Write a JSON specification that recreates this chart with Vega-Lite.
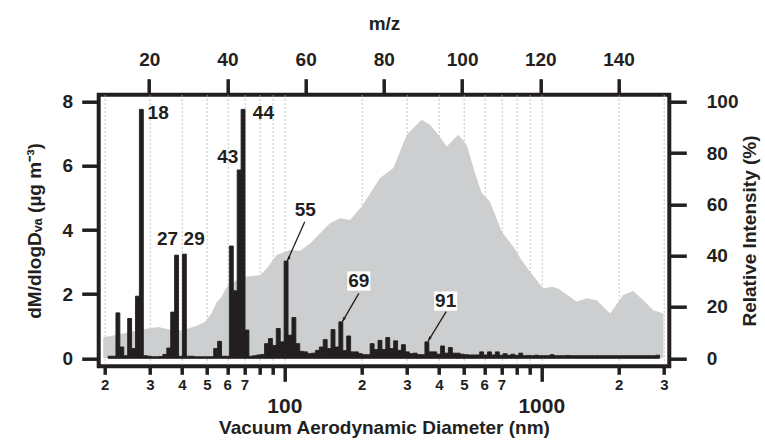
{
  "$schema": "https://vega.github.io/schema/vega-lite/v6.json",
  "width": 570.6,
  "height": 271.6,
  "autosize": {"type": "none"},
  "padding": {"left": 98.7, "top": 94.7, "right": 95.7, "bottom": 79.7},
  "background": "white",
  "config": {
    "view": {"stroke": "#231f20", "strokeWidth": 4},
    "font": "Liberation Sans",
    "axis": {
      "domain": false, "grid": false,
      "tickColor": "#231f20", "tickWidth": 3.5,
      "labelColor": "#231f20", "titleColor": "#231f20",
      "labelFont": "Liberation Sans", "labelFontWeight": "bold", "labelFontSize": 19,
      "titleFont": "Liberation Sans", "titleFontWeight": "bold", "titleFontSize": 19,
      "labelOverlap": false, "labelFlush": false
    }
  },
  "datasets": {
    "size": [
      {"D": 19.75, "dM": 0.65}, {"D": 22.5, "dM": 0.74}, {"D": 26, "dM": 0.84}, {"D": 29.5, "dM": 0.93},
      {"D": 32.3, "dM": 0.98}, {"D": 36.9, "dM": 0.875}, {"D": 40.4, "dM": 0.875}, {"D": 46.1, "dM": 1.03},
      {"D": 49.1, "dM": 1.13}, {"D": 52.0, "dM": 1.40}, {"D": 54.6, "dM": 1.75}, {"D": 56.9, "dM": 1.9},
      {"D": 59.7, "dM": 2.23}, {"D": 65.3, "dM": 2.44}, {"D": 69.9, "dM": 2.54}, {"D": 80.4, "dM": 2.59},
      {"D": 85.4, "dM": 2.80}, {"D": 93.4, "dM": 3.22}, {"D": 105.2, "dM": 3.375}, {"D": 115.1, "dM": 3.35},
      {"D": 125.9, "dM": 3.58}, {"D": 141.8, "dM": 4.0}, {"D": 150.6, "dM": 4.21}, {"D": 164.7, "dM": 4.37},
      {"D": 180.1, "dM": 4.31}, {"D": 200.1, "dM": 4.73}, {"D": 235.8, "dM": 5.62}, {"D": 265.6, "dM": 5.93},
      {"D": 299.5, "dM": 6.97}, {"D": 342.4, "dM": 7.44}, {"D": 368.9, "dM": 7.28}, {"D": 397.4, "dM": 6.97},
      {"D": 428.5, "dM": 6.60}, {"D": 475.4, "dM": 6.97}, {"D": 512.6, "dM": 6.66}, {"D": 552.1, "dM": 5.77},
      {"D": 586.3, "dM": 5.15}, {"D": 631.6, "dM": 4.88}, {"D": 701.3, "dM": 3.95}, {"D": 778.1, "dM": 3.48},
      {"D": 838.9, "dM": 3.06}, {"D": 903.6, "dM": 2.70}, {"D": 1018, "dM": 2.18}, {"D": 1098, "dM": 2.23},
      {"D": 1165, "dM": 2.18}, {"D": 1373, "dM": 1.76}, {"D": 1502, "dM": 1.87}, {"D": 1643, "dM": 1.81},
      {"D": 1851, "dM": 1.40}, {"D": 2085, "dM": 1.97}, {"D": 2280, "dM": 2.10}, {"D": 2494, "dM": 1.81},
      {"D": 2728, "dM": 1.50}, {"D": 2984, "dM": 1.40}
    ],
    "spectrum": [
      {"mz": 10, "pct": 0.8}, {"mz": 11, "pct": 0.8}, {"mz": 12, "pct": 17.7}, {"mz": 13, "pct": 4.4},
      {"mz": 14, "pct": 1.0}, {"mz": 15, "pct": 15.5}, {"mz": 16, "pct": 3.8}, {"mz": 17, "pct": 24.2},
      {"mz": 18, "pct": 97}, {"mz": 19, "pct": 1.0}, {"mz": 20, "pct": 0.8}, {"mz": 21, "pct": 0.6},
      {"mz": 22, "pct": 0.6}, {"mz": 23, "pct": 0.7}, {"mz": 24, "pct": 1.5}, {"mz": 25, "pct": 4.0},
      {"mz": 26, "pct": 18}, {"mz": 27, "pct": 40.2}, {"mz": 28, "pct": 0.8}, {"mz": 29, "pct": 40.6},
      {"mz": 30, "pct": 0.8}, {"mz": 31, "pct": 0.8}, {"mz": 32, "pct": 0.6}, {"mz": 33, "pct": 0.6},
      {"mz": 34, "pct": 0.6}, {"mz": 35, "pct": 0.6}, {"mz": 36, "pct": 0.6}, {"mz": 37, "pct": 3.8},
      {"mz": 38, "pct": 6.6}, {"mz": 39, "pct": 0.8}, {"mz": 40, "pct": 0.8}, {"mz": 41, "pct": 43.75},
      {"mz": 42, "pct": 26.3}, {"mz": 43, "pct": 73.4}, {"mz": 44, "pct": 97}, {"mz": 45, "pct": 11},
      {"mz": 46, "pct": 0.8}, {"mz": 47, "pct": 1.0}, {"mz": 48, "pct": 1.3}, {"mz": 49, "pct": 1.5},
      {"mz": 50, "pct": 5.7}, {"mz": 51, "pct": 7.7}, {"mz": 52, "pct": 5.0}, {"mz": 53, "pct": 11.6},
      {"mz": 54, "pct": 6.4}, {"mz": 55, "pct": 37.9}, {"mz": 56, "pct": 9.0}, {"mz": 57, "pct": 15.9},
      {"mz": 58, "pct": 5.7}, {"mz": 59, "pct": 2.7}, {"mz": 60, "pct": 2.5}, {"mz": 61, "pct": 1.8},
      {"mz": 62, "pct": 2.0}, {"mz": 63, "pct": 3.1}, {"mz": 64, "pct": 4.4}, {"mz": 65, "pct": 7.3},
      {"mz": 66, "pct": 3.8}, {"mz": 67, "pct": 11.2}, {"mz": 68, "pct": 4.4}, {"mz": 69, "pct": 14.2},
      {"mz": 70, "pct": 3.0}, {"mz": 71, "pct": 8.7}, {"mz": 72, "pct": 2.5}, {"mz": 73, "pct": 2.5},
      {"mz": 74, "pct": 1.8}, {"mz": 75, "pct": 1.4}, {"mz": 76, "pct": 1.4}, {"mz": 77, "pct": 5.7},
      {"mz": 78, "pct": 3.4}, {"mz": 79, "pct": 7.0}, {"mz": 80, "pct": 3.4}, {"mz": 81, "pct": 8.1},
      {"mz": 82, "pct": 3.8}, {"mz": 83, "pct": 6.8}, {"mz": 84, "pct": 3.1}, {"mz": 85, "pct": 5.3},
      {"mz": 86, "pct": 2.5}, {"mz": 87, "pct": 1.8}, {"mz": 88, "pct": 2.0}, {"mz": 89, "pct": 1.4},
      {"mz": 90, "pct": 1.4}, {"mz": 91, "pct": 6.4}, {"mz": 92, "pct": 2.5}, {"mz": 93, "pct": 2.5},
      {"mz": 94, "pct": 1.6}, {"mz": 95, "pct": 4.8}, {"mz": 96, "pct": 2.0}, {"mz": 97, "pct": 4.2},
      {"mz": 98, "pct": 2.0}, {"mz": 99, "pct": 2.0}, {"mz": 100, "pct": 1.6}, {"mz": 101, "pct": 1.4},
      {"mz": 102, "pct": 1.3}, {"mz": 103, "pct": 1.3}, {"mz": 104, "pct": 1.3}, {"mz": 105, "pct": 2.5},
      {"mz": 106, "pct": 1.3}, {"mz": 107, "pct": 2.5}, {"mz": 108, "pct": 1.3}, {"mz": 109, "pct": 2.5},
      {"mz": 110, "pct": 1.2}, {"mz": 111, "pct": 1.8}, {"mz": 112, "pct": 1.2}, {"mz": 113, "pct": 1.6},
      {"mz": 114, "pct": 1.1}, {"mz": 115, "pct": 2.0}, {"mz": 116, "pct": 1.0}, {"mz": 117, "pct": 1.1},
      {"mz": 118, "pct": 1.0}, {"mz": 119, "pct": 1.2}, {"mz": 120, "pct": 1.0}, {"mz": 121, "pct": 1.0},
      {"mz": 122, "pct": 1.0}, {"mz": 123, "pct": 1.4}, {"mz": 124, "pct": 1.0}, {"mz": 125, "pct": 1.0},
      {"mz": 126, "pct": 1.0}, {"mz": 127, "pct": 1.1}, {"mz": 128, "pct": 1.0}, {"mz": 129, "pct": 1.0},
      {"mz": 130, "pct": 1.0}, {"mz": 131, "pct": 1.0}, {"mz": 132, "pct": 1.0}, {"mz": 133, "pct": 1.0},
      {"mz": 134, "pct": 1.0}, {"mz": 135, "pct": 1.0}, {"mz": 136, "pct": 1.0}, {"mz": 137, "pct": 1.0},
      {"mz": 138, "pct": 1.0}, {"mz": 139, "pct": 1.0}, {"mz": 140, "pct": 1.0}, {"mz": 141, "pct": 1.0},
      {"mz": 142, "pct": 1.0}, {"mz": 143, "pct": 1.0}, {"mz": 144, "pct": 1.0}, {"mz": 145, "pct": 1.0},
      {"mz": 146, "pct": 1.0}, {"mz": 147, "pct": 1.0}, {"mz": 148, "pct": 1.0}, {"mz": 149, "pct": 1.0},
      {"mz": 150, "pct": 1.2}
    ],
    "labels": [
      {"mz": 22.3, "pct": 95.7, "label": "18"},
      {"mz": 49.2, "pct": 95.7, "label": "44"},
      {"mz": 40.1, "pct": 78.6, "label": "43"},
      {"mz": 24.7, "pct": 46.5, "label": "27"},
      {"mz": 31.5, "pct": 46.5, "label": "29"},
      {"mz": 59.9, "pct": 57.7, "label": "55"},
      {"mz": 73.6, "pct": 30.1, "label": "69", "boxed": true},
      {"mz": 95.8, "pct": 22.3, "label": "91", "boxed": true}
    ],
    "arrows": [
      {"mz": 59.77, "pct": 53.2, "mz_end": 55.3, "pct_end": 37.9},
      {"mz": 73.6, "pct": 25.3, "mz_end": 69.4, "pct_end": 14.3},
      {"mz": 95.93, "pct": 18.2, "mz_end": 91.33, "pct_end": 6.7}
    ]
  },
  "layer": [
    {
      "layer": [
        {
          "data": {"name": "size"},
          "mark": {"type": "area", "color": "#cdcecf", "interpolate": "linear"},
          "encoding": {
            "x": {
              "field": "D", "type": "quantitative",
              "scale": {"type": "log", "domain": [18.96, 3148], "nice": false},
              "axis": {
                "orient": "bottom",
                "values": [20, 30, 40, 50, 60, 70, 80, 90, 100, 200, 300, 400, 500, 600, 700, 800, 900, 1000, 2000, 3000],
                "format": "d",
                "labelExpr": "(datum.value == 100 || datum.value == 1000) ? datum.label : (((datum.value >= 80 && datum.value <= 90) || (datum.value >= 800 && datum.value <= 900)) ? '' : substring(datum.label, 0, 1))",
                "tickSize": {"condition": {"test": "datum.value == 100 || datum.value == 1000", "value": 15}, "value": 8},
                "labelFontSize": {"condition": {"test": "datum.value == 100 || datum.value == 1000", "value": 21}, "value": 15},
                "labelPadding": {"condition": {"test": "datum.value == 100 || datum.value == 1000", "value": 14}, "value": 3},
                "grid": true, "gridDash": [1.5, 2.5], "gridColor": "#b0b0b0", "gridWidth": 1,
                "title": "Vacuum Aerodynamic Diameter (nm)", "titlePadding": 2
              }
            },
            "y": {
              "field": "dM", "type": "quantitative",
              "scale": {"domain": [-0.249, 8.218], "nice": false, "zero": false},
              "axis": {
                "orient": "left", "values": [0, 2, 4, 6, 8], "tickSize": 17, "labelPadding": 9,
                "title": "dM/dlogDᵥₐ (µg m⁻³)", "titlePadding": 18
              }
            }
          }
        },
        {
          "mark": {"type": "rect", "fill": "white", "stroke": "#231f20", "strokeWidth": 2},
          "encoding": {
            "x": {"datum": 733.5, "type": "quantitative"},
            "x2": {"datum": 2609},
            "y": {"datum": 7.637, "type": "quantitative"},
            "y2": {"datum": 6.471}
          }
        },
        {
          "mark": {"type": "text", "text": "Slocan Park", "fontSize": 22, "fontWeight": "bold", "fontStyle": "italic", "color": "#231f20", "align": "center", "baseline": "middle"},
          "encoding": {
            "x": {"datum": 1383, "type": "quantitative"},
            "y": {"datum": 7.054, "type": "quantitative"}
          }
        }
      ]
    },
    {
      "layer": [
        {
          "data": {"name": "spectrum"},
          "mark": {"type": "bar", "color": "#231f20", "stroke": "#231f20", "strokeWidth": 0.9, "width": 3.9},
          "encoding": {
            "x": {
              "field": "mz", "type": "quantitative",
              "scale": {"domain": [8.37, 151.7], "nice": false, "zero": false},
              "axis": {"orient": "top", "values": [20, 40, 60, 80, 100, 120, 140], "tickSize": 16, "labelPadding": 9, "title": "m/z", "titlePadding": 17}
            },
            "y": {
              "field": "pct", "type": "quantitative",
              "scale": {"domain": [-3.12, 102.73], "nice": false, "zero": false},
              "axis": {"orient": "right", "values": [0, 20, 40, 60, 80, 100], "tickSize": 17, "labelPadding": 20, "title": "Relative Intensity (%)", "titleAngle": -90, "titlePadding": 21}
            }
          }
        },
        {
          "data": {"name": "arrows"},
          "mark": {"type": "rule", "color": "#231f20", "strokeWidth": 1.3},
          "encoding": {
            "x": {"field": "mz", "type": "quantitative", "axis": {"orient": "top", "values": [20, 40, 60, 80, 100, 120, 140], "tickSize": 16, "labelPadding": 9, "title": "m/z", "titlePadding": 17}},
            "y": {"field": "pct", "type": "quantitative", "axis": {"orient": "right", "values": [0, 20, 40, 60, 80, 100], "tickSize": 17, "labelPadding": 20, "title": "Relative Intensity (%)", "titleAngle": -90, "titlePadding": 21}},
            "x2": {"field": "mz_end"},
            "y2": {"field": "pct_end"}
          }
        },
        {
          "data": {"name": "arrows"},
          "mark": {"type": "point", "shape": "M0,0L-0.32,-1L0.32,-1Z", "filled": true, "color": "#231f20", "size": 90, "angle": 29, "opacity": 1},
          "encoding": {
            "x": {"field": "mz_end", "type": "quantitative", "axis": {"orient": "top", "values": [20, 40, 60, 80, 100, 120, 140], "tickSize": 16, "labelPadding": 9, "title": "m/z", "titlePadding": 17}},
            "y": {"field": "pct_end", "type": "quantitative", "axis": {"orient": "right", "values": [0, 20, 40, 60, 80, 100], "tickSize": 17, "labelPadding": 20, "title": "Relative Intensity (%)", "titleAngle": -90, "titlePadding": 21}}
          }
        },
        {
          "data": {"name": "labels"},
          "transform": [{"filter": "datum.boxed"}],
          "mark": {"type": "point", "shape": "M-1.1,-0.92H1.1V0.92H-1.1Z", "filled": true, "color": "white", "size": 440, "opacity": 1},
          "encoding": {
            "x": {"field": "mz", "type": "quantitative", "axis": {"orient": "top", "values": [20, 40, 60, 80, 100, 120, 140], "tickSize": 16, "labelPadding": 9, "title": "m/z", "titlePadding": 17}},
            "y": {"field": "pct", "type": "quantitative", "axis": {"orient": "right", "values": [0, 20, 40, 60, 80, 100], "tickSize": 17, "labelPadding": 20, "title": "Relative Intensity (%)", "titleAngle": -90, "titlePadding": 21}}
          }
        },
        {
          "data": {"name": "labels"},
          "mark": {"type": "text", "fontSize": 19, "fontWeight": "bold", "color": "#231f20", "align": "center", "baseline": "middle"},
          "encoding": {
            "x": {"field": "mz", "type": "quantitative", "axis": {"orient": "top", "values": [20, 40, 60, 80, 100, 120, 140], "tickSize": 16, "labelPadding": 9, "title": "m/z", "titlePadding": 17}},
            "y": {"field": "pct", "type": "quantitative", "axis": {"orient": "right", "values": [0, 20, 40, 60, 80, 100], "tickSize": 17, "labelPadding": 20, "title": "Relative Intensity (%)", "titleAngle": -90, "titlePadding": 21}},
            "text": {"field": "label"}
          }
        }
      ]
    }
  ],
  "resolve": {"scale": {"x": "independent", "y": "independent"}}
}
